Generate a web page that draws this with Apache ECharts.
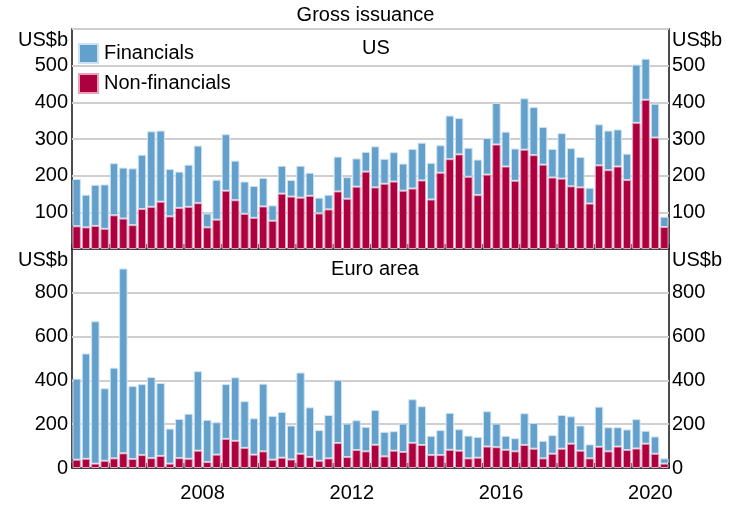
<!DOCTYPE html>
<html>
<head>
<meta charset="utf-8">
<script src="https://cdn.jsdelivr.net/npm/echarts@6/dist/echarts.min.js"></script>
<style>
  html, body { margin: 0; padding: 0; background: #fff; }
  #chart { width: 731px; height: 507px; }
</style>
</head>
<body>
<div id="chart"></div>
<script>
// Quarterly gross bond issuance, 2005 Q1 – 2020 Q4, US$ billions
const years = [2005, 2006, 2007, 2008, 2009, 2010, 2011, 2012, 2013, 2014, 2015, 2016, 2017, 2018, 2019, 2020];
const quarters = ['Q1', 'Q2', 'Q3', 'Q4'];
const categories = [];
years.forEach(y => quarters.forEach(q => categories.push(y + ' ' + q)));

const usFinancials = [
  129, 89, 112, 121, 142, 139, 155, 148, 206, 194, 129, 99, 115, 157, 38, 109,
  154, 108, 88, 87, 78, 42, 76, 45, 87, 63, 43, 40, 95, 59, 77, 54,
  112, 68, 80, 74, 108, 103, 100, 75, 119, 99, 79, 97, 100, 113, 95, 88,
  140, 131, 103, 78, 124, 104, 83, 43, 112, 108, 101, 72, 159, 112, 92, 28
];
const usNonFinancials = [
  62, 59, 63, 55, 92, 83, 65, 109, 115, 129, 89, 112, 115, 125, 59, 80,
  159, 133, 96, 85, 116, 77, 151, 143, 140, 145, 97, 108, 157, 137, 170, 211,
  168, 178, 184, 159, 165, 187, 135, 208, 245, 258, 197, 147, 203, 285, 225, 186,
  271, 256, 230, 195, 192, 171, 168, 124, 228, 215, 225, 188, 344, 407, 304, 60
];
const euroFinancials = [
  370, 481, 650, 331, 414, 844, 333, 324, 370, 333, 160, 179, 206, 363, 193, 148,
  250, 290, 213, 166, 309, 200, 209, 155, 371, 227, 140, 198, 289, 153, 136, 112,
  159, 112, 89, 130, 199, 177, 88, 114, 169, 98, 104, 95, 161, 108, 64, 60,
  145, 118, 80, 85, 154, 125, 115, 64, 183, 110, 88, 94, 134, 59, 79, 24
];
const euroNonFinancials = [
  38, 42, 20, 33, 44, 67, 41, 59, 45, 55, 20, 45, 42, 79, 27, 61,
  133, 124, 92, 61, 76, 38, 47, 39, 65, 50, 33, 44, 114, 50, 82, 76,
  106, 53, 79, 73, 115, 105, 59, 59, 83, 79, 44, 47, 98, 95, 83, 76,
  105, 88, 44, 65, 88, 111, 79, 44, 97, 76, 98, 82, 89, 111, 65, 20
];
const usTicks = [100, 200, 300, 400, 500];
const euroTicks = [0, 200, 400, 600, 800];
const yearLabels = [2008, 2012, 2016, 2020];

const BLUE = '#63a0cc';
const RED = '#ad003f';
const FONT = 'Liberation Sans, Arial, sans-serif';
const TXT = '#000';

const chart = echarts.init(document.getElementById('chart'), null, { renderer: 'canvas' });

function yAxisFor(gridIndex, max, interval, shown, side) {
  return {
    type: 'value', gridIndex, min: 0, max, interval, position: side,
    name: 'US$b', nameLocation: 'end', nameGap: -11,
    nameTextStyle: {
      color: TXT, fontFamily: FONT, fontSize: 20,
      align: side === 'left' ? 'right' : 'left', verticalAlign: 'middle',
      padding: side === 'left' ? [0, 4, 0, 0] : [0, 0, 0, 3]
    },
    axisLine: { show: false }, axisTick: { show: false },
    splitLine: { show: side === 'left', lineStyle: { color: '#cfcfcf', width: 2 } },
    axisLabel: {
      color: TXT, fontFamily: FONT, fontSize: 20, margin: side === 'left' ? 4 : 3,
      formatter: v => (shown.includes(v) ? String(v) : '')
    }
  };
}

function xAxisFor(gridIndex, showLabels) {
  return {
    type: 'category', gridIndex, data: categories, boundaryGap: true,
    axisLine: { show: true, lineStyle: { color: '#111', width: 1.5 } },
    axisTick: {
      show: true, inside: true, length: 5, alignWithLabel: false,
      interval: idx => idx % 4 === 0, lineStyle: { color: '#222', width: 1.5 }
    },
    axisLabel: {
      show: showLabels, color: TXT, fontFamily: FONT, fontSize: 20, margin: 15,
      interval: idx => yearLabels.includes(years[Math.floor(idx / 4)]) && idx % 4 === 2,
      formatter: v => v.slice(0, 4),
      padding: [0, 9.3, 0, 0]
    }
  };
}

function barSeries(name, data, color, border, xi, yi) {
  return {
    name, type: 'bar', stack: 'p' + xi, xAxisIndex: xi, yAxisIndex: yi, data,
    barCategoryGap: '10%',
    itemStyle: { color, borderColor: border, borderWidth: 1 },
    emphasis: { disabled: true }
  };
}

chart.setOption({
  animation: false,
  backgroundColor: '#fff',
  textStyle: { fontFamily: FONT },
  title: [
    { text: 'Gross issuance', left: 'center', top: 0, textStyle: { color: TXT, fontSize: 20, fontWeight: 'normal', fontFamily: FONT } },
    { text: 'US', left: 371, textAlign: 'center', top: 33, textStyle: { color: TXT, fontSize: 20, fontWeight: 'normal', fontFamily: FONT } },
    { text: 'Euro area', left: 370, textAlign: 'center', top: 254, textStyle: { color: TXT, fontSize: 20, fontWeight: 'normal', fontFamily: FONT } }
  ],
  legend: {
    data: ['Financials', 'Non-financials'], orient: 'vertical', left: 78, top: 43,
    padding: 0, itemWidth: 19, itemHeight: 19, itemGap: 9,
    icon: 'rect',
    textStyle: { color: TXT, fontSize: 20, fontFamily: FONT, padding: [0, 0, 0, 1] }
  },
  grid: [
    { left: 72, right: 62, top: 29, height: 220, show: true, borderColor: '#111', borderWidth: 1.5, backgroundColor: 'transparent' },
    { left: 72, right: 62, top: 249, height: 219, show: true, borderColor: '#111', borderWidth: 1.5, backgroundColor: 'transparent' }
  ],
  xAxis: [xAxisFor(0, false), xAxisFor(1, true)],
  yAxis: [
    yAxisFor(0, 600, 100, usTicks, 'left'),
    yAxisFor(0, 600, 100, usTicks, 'right'),
    yAxisFor(1, 1000, 200, euroTicks, 'left'),
    yAxisFor(1, 1000, 200, euroTicks, 'right')
  ],
  series: [
    barSeries('Non-financials', usNonFinancials, RED, '#e7a3bb', 0, 0),
    barSeries('Financials', usFinancials, BLUE, '#cfe2f0', 0, 0),
    barSeries('Non-financials', euroNonFinancials, RED, '#e7a3bb', 1, 2),
    barSeries('Financials', euroFinancials, BLUE, '#cfe2f0', 1, 2)
  ]
});
</script>
</body>
</html>
